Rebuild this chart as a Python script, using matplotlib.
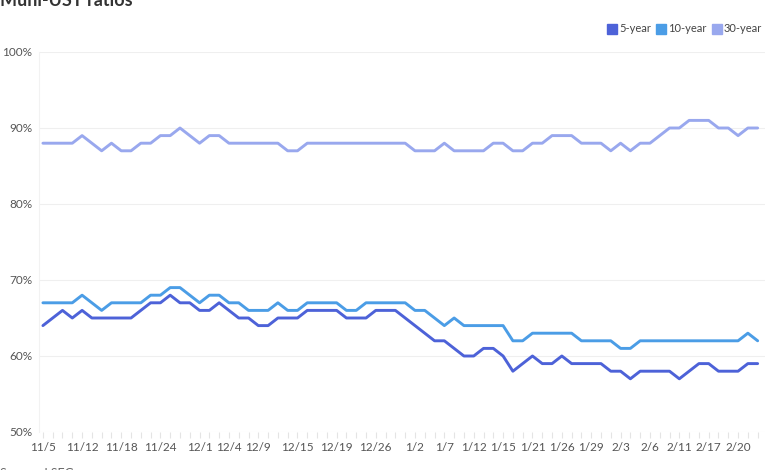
import pandas as pd
import matplotlib.pyplot as plt
from matplotlib.lines import Line2D
from matplotlib.ticker import FixedLocator, FuncFormatter

plt.rcParams["font.family"] = ["Lato", "DejaVu Sans"]

TITLE = "Muni-UST ratios"
SOURCE = "Source: LSEG"

# bond market holidays skipped by the daily series
HOLIDAYS = ["2025-11-11", "2025-11-27", "2025-12-25", "2026-01-01", "2026-01-19", "2026-02-16"]
START = "2025-11-05"

SERIES = ["5-year", "10-year", "30-year"]
COLORS = {"5-year": "#4d62d8", "10-year": "#4b9de6", "30-year": "#99a8ee"}

RATIO_5Y = [
    64, 65, 66, 65, 66, 65, 65, 65, 65, 65, 66, 67, 67, 68, 67, 67, 66, 66, 67, 66,
    65, 65, 64, 64, 65, 65, 65, 66, 66, 66, 66, 65, 65, 65, 66, 66, 66, 65, 64, 63,
    62, 62, 61, 60, 60, 61, 61, 60, 58, 59, 60, 59, 59, 60, 59, 59, 59, 59, 58, 58,
    57, 58, 58, 58, 58, 57, 58, 59, 59, 58, 58, 58, 59, 59,
]
RATIO_10Y = [
    67, 67, 67, 67, 68, 67, 66, 67, 67, 67, 67, 68, 68, 69, 69, 68, 67, 68, 68, 67,
    67, 66, 66, 66, 67, 66, 66, 67, 67, 67, 67, 66, 66, 67, 67, 67, 67, 67, 66, 66,
    65, 64, 65, 64, 64, 64, 64, 64, 62, 62, 63, 63, 63, 63, 63, 62, 62, 62, 62, 61,
    61, 62, 62, 62, 62, 62, 62, 62, 62, 62, 62, 62, 63, 62,
]
RATIO_30Y = [
    88, 88, 88, 88, 89, 88, 87, 88, 87, 87, 88, 88, 89, 89, 90, 89, 88, 89, 89, 88,
    88, 88, 88, 88, 88, 87, 87, 88, 88, 88, 88, 88, 88, 88, 88, 88, 88, 88, 87, 87,
    87, 88, 87, 87, 87, 87, 88, 88, 87, 87, 88, 88, 89, 89, 89, 88, 88, 88, 87, 88,
    87, 88, 88, 89, 90, 90, 91, 91, 91, 90, 90, 89, 90, 90,
]

TICK_LABELS = [
    "11/5", "11/12", "11/18", "11/24", "12/1", "12/4", "12/9", "12/15", "12/19",
    "12/26", "1/2", "1/7", "1/12", "1/15", "1/21", "1/26", "1/29", "2/3", "2/6",
    "2/11", "2/17", "2/20",
]
Y_TICKS = [50, 60, 70, 80, 90, 100]


def build_frame() -> pd.DataFrame:
    dates = pd.bdate_range(START, periods=len(RATIO_5Y), freq="C", holidays=HOLIDAYS)
    df = pd.DataFrame(
        {"5-year": RATIO_5Y, "10-year": RATIO_10Y, "30-year": RATIO_30Y},
        index=[f"{d.month}/{d.day}" for d in dates],
    )
    return df


def plot_ratios(df: pd.DataFrame) -> None:
    fig = plt.figure(figsize=(7.8, 4.7), dpi=100)
    ax = fig.add_axes([39 / 780, 38 / 470, 726 / 780, 380 / 470])

    x = range(len(df))
    for name in SERIES:
        ax.plot(x, df[name], color=COLORS[name], lw=2.1,
                solid_joinstyle="round", solid_capstyle="round", zorder=3)

    ax.set_xlim(-0.4, len(df) - 0.25)
    ax.set_ylim(50, 100)

    labels = list(df.index)
    ax.xaxis.set_major_locator(FixedLocator([labels.index(t) for t in TICK_LABELS]))
    ax.xaxis.set_minor_locator(FixedLocator(list(x)))
    ax.xaxis.set_major_formatter(FuncFormatter(lambda v, p: labels[int(round(v))]))
    ax.tick_params(axis="x", which="both", length=4, color="#e4e4e4", width=0.8,
                   labelsize=8.5, labelcolor="#555555", pad=3)

    ax.set_yticks(Y_TICKS)
    ax.yaxis.set_major_formatter(FuncFormatter(lambda v, p: f"{v:.0f}%"))
    ax.tick_params(axis="y", length=0, labelsize=8.5, labelcolor="#555555", pad=5)
    ax.grid(axis="y", color="#efefef", lw=0.8, zorder=0)

    for side in ["top", "right", "bottom"]:
        ax.spines[side].set_visible(False)
    ax.spines["left"].set_color("#f2f2f2")

    fig.text(0.0, 1 - 6 / 470, TITLE, fontsize=13, fontweight="bold",
             color="#333333", ha="left", va="baseline")
    fig.text(0.0, 1 - 478 / 470, SOURCE, fontsize=9, color="#666666",
             ha="left", va="baseline")

    handles = [Line2D([], [], marker="s", ls="none", markersize=7.5,
                      markerfacecolor=COLORS[n], markeredgecolor=COLORS[n])
               for n in SERIES]
    fig.legend(handles, SERIES, loc="center right", bbox_to_anchor=(770 / 780, 1 - 29 / 470),
               ncol=3, frameon=False, fontsize=8, labelcolor="#444444",
               handletextpad=0.25, columnspacing=0.5, handlelength=0.8,
               borderpad=0.2)

    fig.savefig("out.png", dpi=100)


if __name__ == "__main__":
    plot_ratios(build_frame())
